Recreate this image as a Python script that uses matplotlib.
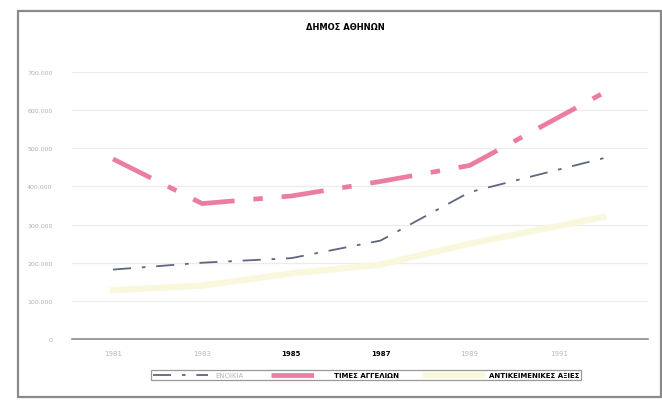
import matplotlib
matplotlib.use("Agg")
import matplotlib.pyplot as plt
from matplotlib.patches import Rectangle
from matplotlib.ticker import FuncFormatter

plt.rcParams['font.family'] = ['DejaVu Sans']

title = "ΔΗΜΟΣ ΑΘΗΝΩΝ"
years = [1981, 1983, 1985, 1987, 1989, 1992]
tick_years = [1981, 1983, 1985, 1987, 1989, 1991]
series_names = ["ΕΝΟΙΚΙΑ", "ΤΙΜΕΣ ΑΓΓΕΛΙΩΝ", "ΑΝΤΙΚΕΙΜΕΝΙΚΕΣ ΑΞΙΕΣ"]
rents = [182000, 200000, 212000, 258000, 385000, 474000]
ad_prices = [472000, 355000, 375000, 413000, 455000, 645000]
objective_values = [128000, 140000, 172000, 195000, 250000, 320000]

fig = plt.figure(figsize=(6.62, 4.06), dpi=100)
fig.patch.set_facecolor("white")

# outer chart frame
fig.add_artist(Rectangle((18 / 662, 1 - 398 / 406), 643 / 662, 386 / 406,
                         transform=fig.transFigure, fill=False,
                         edgecolor="#8a8a8a", linewidth=1.6))

ax = fig.add_axes([72 / 662, 1 - 340 / 406, 576 / 662, 267 / 406])

l3, = ax.plot(years, objective_values, color="#f9f8dc", linewidth=4.5)
l1, = ax.plot(years, rents, color="#5e6680", linewidth=1.3,
              dashes=(10, 6, 2, 6))
l2, = ax.plot(years, ad_prices, color="#e8678f", linewidth=3.4,
              dashes=(9, 4, 2, 4), alpha=0.85)

ax.set_xlim(1980.08, 1993.0)
ax.set_ylim(0, 700000)
ax.set_yticks(range(0, 700001, 100000))
ax.yaxis.set_major_formatter(FuncFormatter(
    lambda v, p: "0" if v == 0 else f"{int(v):,}".replace(",", ".")))
ax.set_xticks(tick_years)
ax.set_xticklabels([str(y) for y in tick_years])
for lab, y in zip(ax.get_xticklabels(), tick_years):
    if y in (1985, 1987):
        lab.set_color("black")
        lab.set_fontweight("bold")
    else:
        lab.set_color("#b8b8b8")
ax.tick_params(axis="x", length=0, labelsize=5, pad=8)
ax.tick_params(axis="y", length=0, labelsize=4.5, labelcolor="#b0b0b0", pad=14)

ax.grid(axis="y", color="#ececec", linewidth=0.9)
ax.set_axisbelow(True)
for s in ("top", "right", "left"):
    ax.spines[s].set_visible(False)
ax.spines["bottom"].set_color("#8a8a8a")
ax.spines["bottom"].set_linewidth(1.2)

fig.text(345 / 662, 1 - 28 / 406, title, ha="center", va="center",
         fontsize=6, fontweight="bold")

leg = fig.legend([l1, l2, l3], series_names, ncol=3,
                 loc="center", bbox_to_anchor=(366 / 662, 1 - 376 / 406),
                 fontsize=5, frameon=True, fancybox=False, handlelength=8,
                 columnspacing=4, borderpad=0.3, handletextpad=1.0)
leg.get_frame().set_edgecolor("#808080")
leg.get_frame().set_linewidth(0.9)
texts = leg.get_texts()
texts[0].set_color("#b8b8b8")
for t in texts[1:]:
    t.set_fontweight("bold")

fig.savefig("out.png", dpi=100)
